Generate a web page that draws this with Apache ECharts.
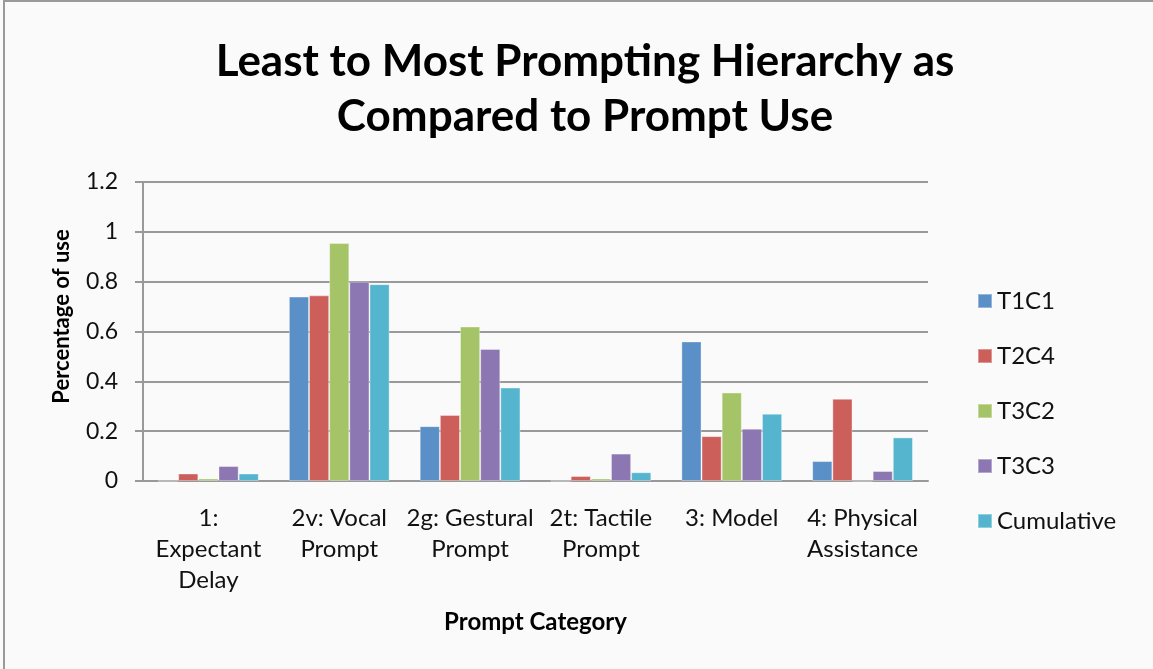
<!DOCTYPE html>
<html>
<head>
<meta charset="utf-8">
<script src="https://cdn.jsdelivr.net/npm/echarts@6/dist/echarts.min.js"></script>
<style>
  html, body { margin: 0; padding: 0; background: #fafafa; }
  #chart { width: 1153px; height: 669px; }
</style>
</head>
<body>
<div id="chart"></div>
<script>
// Prompt categories along the x axis (line breaks as shown under each group)
const categories = [
  '1:\nExpectant\nDelay',
  '2v: Vocal\nPrompt',
  '2g: Gestural\nPrompt',
  '2t: Tactile\nPrompt',
  '3: Model',
  '4: Physical\nAssistance'
];

// Share of use for each prompt category
const t1c1 = [0, 0.74, 0.22, 0, 0.56, 0.08];
const t2c4 = [0.03, 0.745, 0.265, 0.02, 0.18, 0.33];
const t3c2 = [0.01, 0.955, 0.62, 0.01, 0.355, 0];
const t3c3 = [0.06, 0.80, 0.53, 0.11, 0.21, 0.04];
const cumulative = [0.03, 0.79, 0.375, 0.035, 0.27, 0.175];

const seriesNames = ['T1C1', 'T2C4', 'T3C2', 'T3C3', 'Cumulative'];
const seriesData = [t1c1, t2c4, t3c2, t3c3, cumulative];
const colors = ['#5A8FC7', '#CD5F5B', '#A5C468', '#8D77B2', '#55B5CF'];

const font = 'Lato, "Open Sans", sans-serif';

const chart = echarts.init(document.getElementById('chart'), null, { renderer: 'canvas' });

chart.setOption({
  backgroundColor: '#fafafa',
  animation: false,
  color: colors,
  title: {
    text: 'Least to Most Prompting Hierarchy as\nCompared to Prompt Use',
    left: 580,
    textAlign: 'center',
    top: 29,
    textStyle: {
      fontFamily: font,
      fontWeight: 'bold',
      fontSize: 44,
      lineHeight: 55,
      color: '#000'
    }
  },
  graphic: [{
    type: 'rect',
    silent: true,
    shape: { x: 4, y: 1, width: 1200, height: 700 },
    style: { fill: 'none', stroke: '#9a9a9a', lineWidth: 2 }
  }],
  legend: {
    orient: 'vertical',
    left: 972,
    top: 284,
    itemWidth: 14,
    itemHeight: 14,
    itemGap: 31,
    icon: 'rect',
    data: seriesNames,
    textStyle: { fontFamily: font, fontSize: 24, lineHeight: 22, color: '#111', padding: [0, 0, 0, 0] }
  },
  grid: {
    left: 143,
    right: 225,
    top: 182,
    bottom: 188,
    containLabel: false
  },
  xAxis: {
    type: 'category',
    data: categories,
    name: 'Prompt Category',
    nameLocation: 'middle',
    nameGap: 129,
    nameTextStyle: { fontFamily: font, fontWeight: 'bold', fontSize: 24, color: '#000' },
    axisLine: { lineStyle: { color: '#999', width: 2 } },
    axisTick: { show: false },
    axisLabel: {
      interval: 0,
      margin: 22,
      fontFamily: font,
      fontSize: 24,
      lineHeight: 31,
      color: '#111'
    }
  },
  yAxis: {
    type: 'value',
    min: 0,
    max: 1.2,
    interval: 0.2,
    name: 'Percentage of use',
    nameLocation: 'middle',
    nameGap: 70,
    nameTextStyle: { fontFamily: font, fontWeight: 'bold', fontSize: 22, color: '#000', padding: [0, 0, 0, 30] },
    axisLine: { show: true, lineStyle: { color: '#999', width: 2 } },
    axisTick: { show: true, inside: false, length: 8, lineStyle: { color: '#999', width: 2 } },
    splitLine: { show: true, lineStyle: { color: '#999', width: 2 } },
    axisLabel: {
      margin: 25,
      fontFamily: font,
      fontSize: 23,
      color: '#111',
      formatter: v => String(+v.toFixed(1))
    }
  },
  series: seriesNames.map((name, i) => ({
    name,
    type: 'bar',
    data: seriesData[i],
    barGap: '0%',
    barCategoryGap: '23%',
    itemStyle: {
      color: colors[i],
      borderColor: 'rgba(255,255,255,0.35)',
      borderWidth: 1
    }
  }))
});
</script>
</body>
</html>
